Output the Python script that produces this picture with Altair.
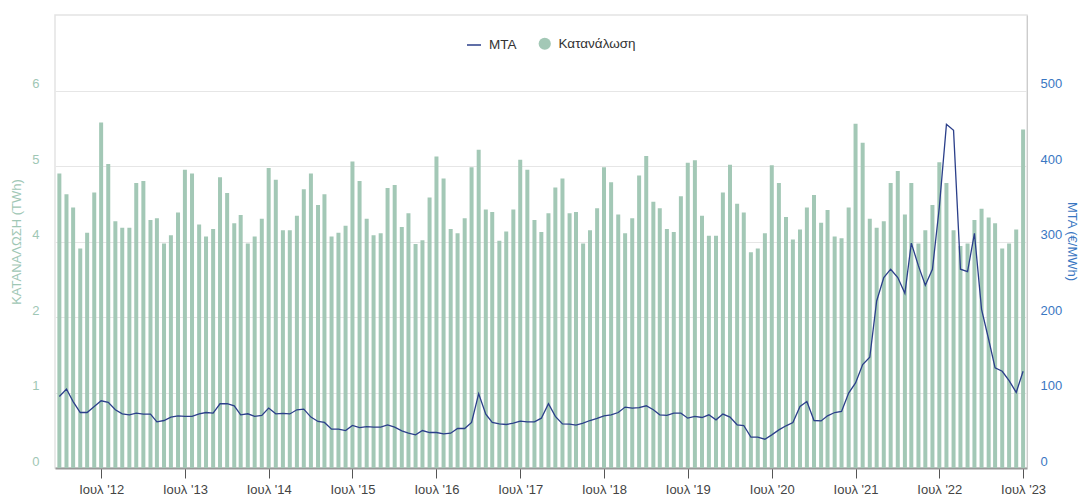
import altair as alt
import pandas as pd

months = pd.date_range("2012-01-01", periods=139, freq="MS").strftime("%Y-%m-%d").tolist()

consumption = [
    4.68, 4.35, 4.14, 3.49, 3.74, 4.38, 5.49, 4.83, 3.92, 3.82, 3.82, 4.53,
    4.56, 3.94, 3.97, 3.57, 3.70, 4.06, 4.74, 4.68, 3.87, 3.68, 3.80, 4.62,
    4.37, 3.89, 4.02, 3.57, 3.68, 3.96, 4.77, 4.58, 3.78, 3.78, 4.01, 4.43,
    4.68, 4.18, 4.35, 3.68, 3.74, 3.85, 4.87, 4.56, 3.96, 3.70, 3.73, 4.45,
    4.50, 3.83, 4.05, 3.56, 3.62, 4.30, 4.95, 4.60, 3.80, 3.73, 3.97, 4.78,
    5.06, 4.11, 4.07, 3.61, 3.76, 4.11, 4.90, 4.74, 3.94, 3.75, 4.05, 4.46,
    4.60, 4.05, 4.07, 3.57, 3.78, 4.13, 4.78, 4.54, 4.03, 3.73, 3.97, 4.65,
    4.96, 4.23, 4.13, 3.80, 3.75, 4.32, 4.85, 4.89, 4.01, 3.69, 3.69, 4.38,
    4.82, 4.20, 4.06, 3.43, 3.49, 3.73, 4.81, 4.53, 3.99, 3.63, 3.79, 4.14,
    4.34, 3.90, 4.10, 3.68, 3.65, 4.14, 5.47, 5.17, 3.96, 3.82, 3.92, 4.53,
    4.72, 4.03, 4.53, 3.57, 3.78, 4.18, 4.86, 4.53, 3.78, 3.53, 3.57, 3.94,
    4.12, 3.98, 3.89, 3.49, 3.57, 3.79, 5.38,
]

mta = [
    94.8, 104.6, 88.0, 73.5, 73.5, 81.5, 89.0, 86.9, 77.1, 71.8, 70.5, 72.7,
    71.4, 71.4, 61.2, 62.9, 67.4, 69.1, 68.3, 68.3, 71.8, 73.5, 72.7, 85.1,
    85.1, 82.4, 70.5, 71.8, 68.3, 69.6, 79.4, 71.8, 72.3, 71.6, 77.1, 78.0,
    67.4, 61.6, 60.3, 51.4, 51.4, 49.6, 56.3, 53.6, 54.9, 54.1, 54.1, 57.2,
    54.1, 49.2, 46.1, 43.9, 49.6, 47.0, 47.0, 45.2, 46.1, 52.3, 52.3, 60.3,
    98.4, 71.4, 60.3, 58.5, 57.6, 59.4, 62.1, 61.2, 61.2, 66.0, 85.1, 68.3,
    58.5, 58.0, 56.7, 59.4, 62.9, 65.6, 69.1, 70.5, 73.5, 80.7, 79.4, 80.0,
    82.4, 77.1, 70.5, 69.6, 72.7, 72.7, 66.0, 68.3, 66.9, 70.5, 63.8, 71.4,
    67.4, 57.2, 56.3, 40.8, 40.8, 38.1, 43.9, 50.5, 55.9, 60.3, 81.5, 88.2,
    62.9, 62.4, 69.1, 73.5, 74.9, 99.3, 112.6, 137.0, 146.7, 221.2, 252.2, 263.3,
    252.2, 231.4, 297.9, 267.7, 242.0, 263.3, 345.3, 455.2, 447.2, 263.3, 260.2, 310.8,
    210.1, 170.2, 132.6, 128.1, 115.7, 100.1, 128.1,
]

tick_years = list(range(2012, 2024))
left_ticks = [0, 1.2, 2.4, 3.6, 4.8, 6]
right_ticks = [0, 100, 200, 300, 400, 500]

df = pd.DataFrame({"date": months, "cons": consumption, "mta": mta})

GREEN = "#a3c8b6"
NAVY = "#2b3f8a"
BLUE = "#3a77c2"
FONT = "Liberation Sans"

x_enc = alt.X(
    "date:T",
    scale=alt.Scale(
        type="utc",
        padding=0,
        nice=False,
        domain=[
            alt.DateTime(year=2011, month=12, date=13, utc=True),
            alt.DateTime(year=2023, month=7, date=18, utc=True),
        ],
    ),
    axis=alt.Axis(
        values=[alt.DateTime(year=y, month=7, date=1, utc=True) for y in tick_years],
        labelExpr="\"Ιουλ '\" + utcFormat(datum.value, '%y')",
        grid=False,
        tickColor="#555555",
        tickSize=10,
        domainColor="#999999",
        domainWidth=2,
        labelColor="#444444",
        labelFontSize=13,
        labelPadding=5,
        labelFont=FONT,
        title=None,
    ),
)

bars = (
    alt.Chart(df)
    .transform_calculate(k="'Κατανάλωση'")
    .mark_bar(size=4)
    .encode(
        x=x_enc,
        y=alt.Y(
            "cons:Q",
            scale=alt.Scale(domain=[0, 7.2], nice=False, zero=True),
            axis=alt.Axis(
                values=left_ticks,
                labelExpr="format(round(datum.value), 'd')",
                grid=True,
                gridColor="#e6e6e6",
                domain=False,
                ticks=False,
                labelColor="#9fc7b5",
                labelFontSize=13,
                labelFont=FONT,
                labelPadding=16,
                labelBaseline="middle",
                labelOffset=-7,
                title="ΚΑΤΑΝΑΛΩΣΗ (TWh)",
                titleColor="#9fc7b5",
                titleFontSize=13,
                titleFontWeight="normal",
                titleFont=FONT,
                titlePadding=8,
            ),
        ),
        fill=alt.Fill(
            "k:N",
            scale=alt.Scale(domain=["Κατανάλωση"], range=[GREEN]),
            legend=alt.Legend(
                title=None,
                orient="none",
                legendX=483,
                legendY=22,
                symbolType="circle",
                symbolSize=150,
                symbolStrokeWidth=0,
                labelOffset=7,
                labelFontSize=13.5,
                labelFont=FONT,
                labelColor="#333333",
            ),
        ),
    )
)

line = (
    alt.Chart(df)
    .transform_calculate(s="'MTA'")
    .mark_line(strokeWidth=1.3)
    .encode(
        x=x_enc,
        y=alt.Y(
            "mta:Q",
            scale=alt.Scale(domain=[0, 600], nice=False),
            axis=alt.Axis(
                orient="right",
                values=right_ticks,
                grid=False,
                domain=True,
                domainColor="#cccccc",
                ticks=False,
                labelColor=BLUE,
                labelFontSize=13,
                labelFont=FONT,
                labelPadding=13,
                labelBaseline="middle",
                labelOffset=-7,
                title="MTA (€/MWh)",
                titleColor=BLUE,
                titleFontSize=13,
                titleFontWeight="normal",
                titleFont=FONT,
                titleX=44,
                titleY=226,
                titleAngle=90,
                titleAlign="center",
                titleBaseline="middle",
            ),
        ),
        stroke=alt.Stroke(
            "s:N",
            scale=alt.Scale(domain=["MTA"], range=[NAVY]),
            legend=alt.Legend(
                title=None,
                orient="none",
                legendX=411,
                legendY=22,
                symbolType="stroke",
                symbolSize=196,
                symbolStrokeWidth=1.5,
                labelOffset=7,
                labelFontSize=13.5,
                labelFont=FONT,
                labelColor="#333333",
            ),
        ),
    )
)

chart = (
    alt.layer(bars, line)
    .resolve_scale(y="independent", fill="independent", stroke="independent")
    .properties(
        width=972,
        height=453,
        autosize=alt.AutoSizeParams(type="none"),
        padding={"left": 47, "top": 7, "right": 51, "bottom": 30},
    )
    .configure_view(stroke="#e3e3e3", strokeWidth=1.5)
)

chart.save("out.html", embed_options={"renderer": "svg", "actions": False})
